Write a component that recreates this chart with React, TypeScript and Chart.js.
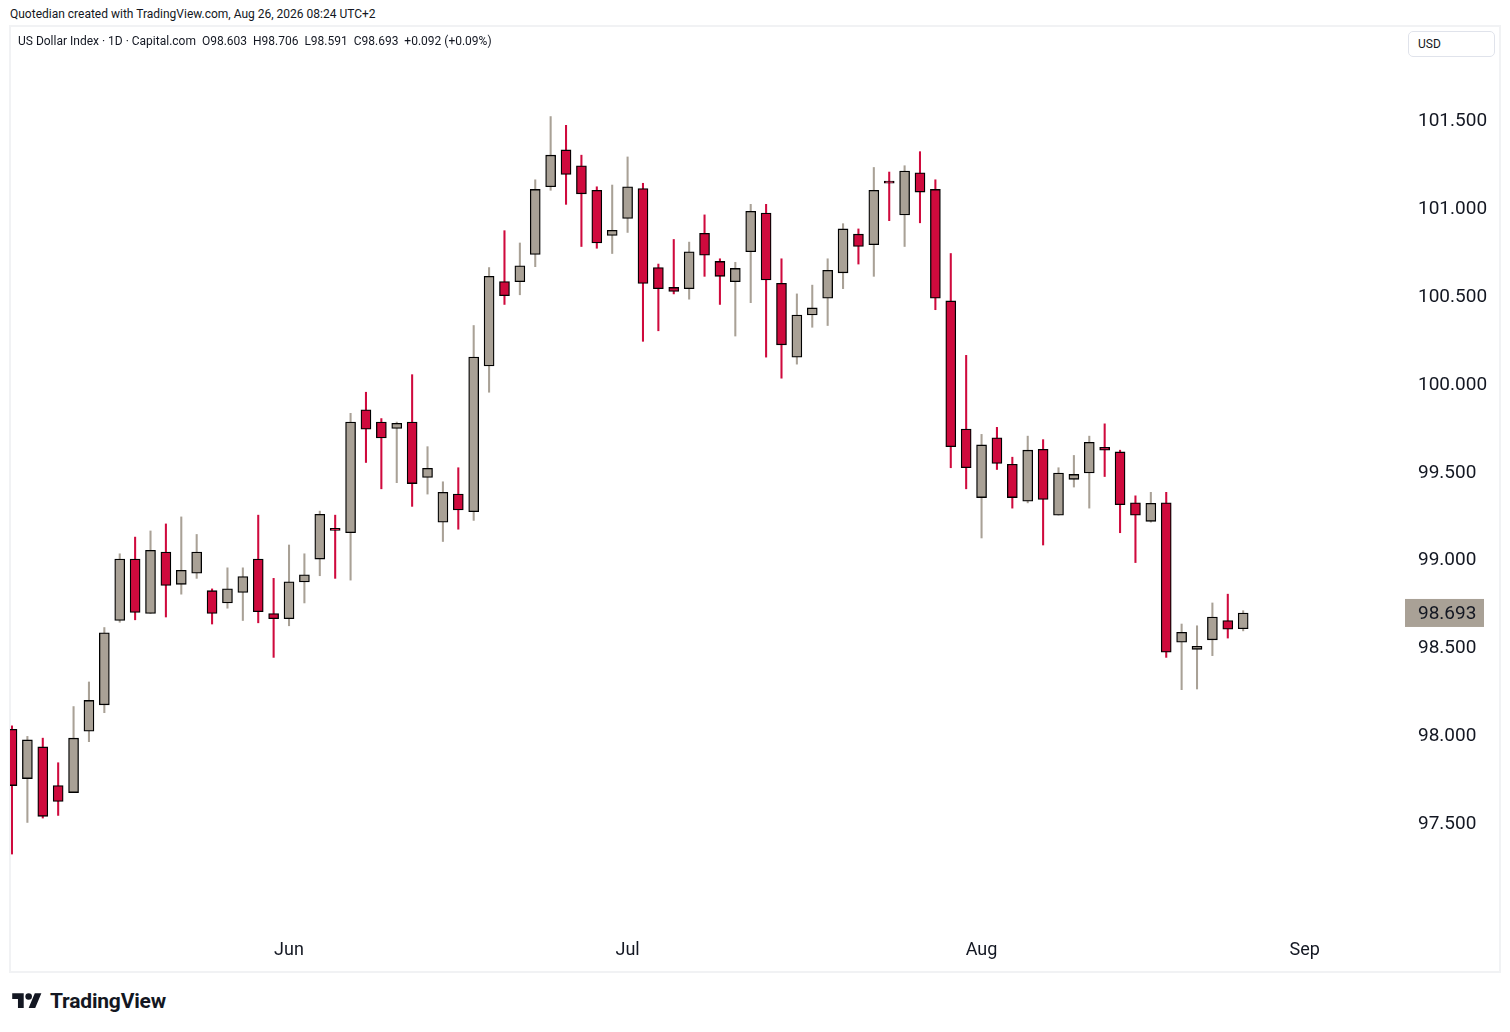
import React, { useEffect, useRef } from 'react';
import { Chart, registerables } from 'chart.js';

Chart.register(...registerables);

// Trading days (categories)
const dates = [
  '2026-05-06', '2026-05-07', '2026-05-08',
  '2026-05-11', '2026-05-12', '2026-05-13', '2026-05-14', '2026-05-15',
  '2026-05-18', '2026-05-19', '2026-05-20', '2026-05-21', '2026-05-22',
  '2026-05-25', '2026-05-26', '2026-05-27', '2026-05-28', '2026-05-29',
  '2026-06-01', '2026-06-02', '2026-06-03', '2026-06-04', '2026-06-05',
  '2026-06-08', '2026-06-09', '2026-06-10', '2026-06-11', '2026-06-12',
  '2026-06-15', '2026-06-16', '2026-06-17', '2026-06-18', '2026-06-19',
  '2026-06-22', '2026-06-23', '2026-06-24', '2026-06-25', '2026-06-26',
  '2026-06-29', '2026-06-30',
  '2026-07-01', '2026-07-02', '2026-07-03',
  '2026-07-06', '2026-07-07', '2026-07-08', '2026-07-09', '2026-07-10',
  '2026-07-13', '2026-07-14', '2026-07-15', '2026-07-16', '2026-07-17',
  '2026-07-20', '2026-07-21', '2026-07-22', '2026-07-23', '2026-07-24',
  '2026-07-27', '2026-07-28', '2026-07-29', '2026-07-30', '2026-07-31',
  '2026-08-03', '2026-08-04', '2026-08-05', '2026-08-06', '2026-08-07',
  '2026-08-10', '2026-08-11', '2026-08-12', '2026-08-13', '2026-08-14',
  '2026-08-17', '2026-08-18', '2026-08-19', '2026-08-20', '2026-08-21',
  '2026-08-24', '2026-08-25', '2026-08-26',
];

const opens = [
  98.03, 97.75, 97.93, 97.71, 97.67, 98.02, 98.17, 98.65, 99.0, 98.69,
  99.04, 98.856, 98.92, 98.82, 98.75, 98.81, 99.0, 98.69, 98.66, 98.87,
  99.0, 99.175, 99.15, 99.85, 99.78, 99.744, 99.78, 99.465, 99.21, 99.37,
  99.27, 100.1, 100.58, 100.58, 100.735, 101.12, 101.33, 101.24, 101.1, 100.843,
  100.94, 101.11, 100.66, 100.547, 100.54, 100.855, 100.695, 100.58, 100.75, 100.97,
  100.57, 100.15, 100.39, 100.485, 100.63, 100.85, 100.79, 101.145, 100.96, 101.2,
  101.105, 100.47, 99.74, 99.35, 99.69, 99.54, 99.33, 99.625, 99.25, 99.454,
  99.49, 99.636, 99.61, 99.32, 99.215, 99.32, 98.526, 98.486, 98.54, 98.65,
  98.603,
];

const highs = [
  98.05, 97.99, 97.98, 97.84, 98.16, 98.3, 98.61, 99.03, 99.125, 99.16,
  99.2, 99.24, 99.14, 98.83, 98.95, 98.95, 99.25, 98.89, 99.08, 99.03,
  99.273, 99.25, 99.83, 99.95, 99.8, 99.78, 100.05, 99.64, 99.44, 99.52,
  100.33, 100.66, 100.87, 100.8, 101.16, 101.52, 101.47, 101.3, 101.12, 101.13,
  101.29, 101.14, 100.68, 100.82, 100.805, 100.96, 100.71, 100.69, 101.02, 101.02,
  100.71, 100.51, 100.56, 100.71, 100.91, 100.88, 101.23, 101.204, 101.24, 101.32,
  101.16, 100.74, 100.16, 99.71, 99.75, 99.58, 99.7, 99.68, 99.52, 99.59,
  99.7, 99.77, 99.62, 99.36, 99.38, 99.38, 98.63, 98.62, 98.75, 98.8,
  98.706,
];

const lows = [
  97.32, 97.5, 97.525, 97.54, 97.67, 97.96, 98.125, 98.64, 98.654, 98.69,
  98.67, 98.8, 98.89, 98.63, 98.72, 98.65, 98.637, 98.44, 98.62, 98.75,
  98.905, 98.89, 98.88, 99.55, 99.4, 99.435, 99.3, 99.37, 99.1, 99.17,
  99.22, 99.95, 100.45, 100.505, 100.665, 101.1, 101.02, 100.78, 100.77, 100.74,
  100.86, 100.24, 100.3, 100.51, 100.48, 100.61, 100.45, 100.27, 100.46, 100.15,
  100.03, 100.11, 100.32, 100.33, 100.54, 100.68, 100.61, 100.927, 100.78, 100.915,
  100.42, 99.52, 99.4, 99.12, 99.51, 99.29, 99.32, 99.08, 99.25, 99.41,
  99.29, 99.47, 99.15, 98.98, 99.21, 98.44, 98.256, 98.26, 98.45, 98.55,
  98.591,
];

const closes = [
  97.71, 97.97, 97.535, 97.62, 97.98, 98.195, 98.58, 99.0, 98.696, 99.05,
  98.85, 98.936, 99.04, 98.69, 98.83, 98.9, 98.7, 98.66, 98.87, 98.91,
  99.255, 99.163, 99.78, 99.74, 99.69, 99.773, 99.43, 99.517, 99.38, 99.28,
  100.15, 100.61, 100.5, 100.67, 101.105, 101.3, 101.19, 101.08, 100.8, 100.872,
  101.12, 100.57, 100.54, 100.524, 100.75, 100.73, 100.61, 100.655, 100.98, 100.59,
  100.22, 100.39, 100.43, 100.644, 100.88, 100.78, 101.1, 101.141, 101.21, 101.09,
  100.485, 99.64, 99.52, 99.65, 99.545, 99.35, 99.62, 99.34, 99.49, 99.482,
  99.665, 99.62, 99.31, 99.25, 99.317, 98.47, 98.583, 98.503, 98.67, 98.6,
  98.693,
];

const yTickValues = [97.5, 98.0, 98.5, 99.0, 99.5, 100.0, 100.5, 101.0, 101.5];
const xTickIndex = [18, 40, 63, 84];
const xTickLabels = ['Jun', 'Jul', 'Aug', 'Sep'];

const UP = '#a9a196';
const DOWN = '#cf0a3d';
const TEXT = '#131722';
const FONT = 'Roboto, "Noto Sans", sans-serif';

const priceLabelPlugin = {
  id: 'priceLabel',
  afterDraw(chart: any) {
    const { ctx, chartArea, scales } = chart;
    const y = scales.y;
    const last = closes[closes.length - 1];
    const py = y.getPixelForValue(last);
    ctx.save();
    ctx.fillStyle = UP;
    ctx.fillRect(chartArea.right + 5, py - 14, 79, 28);
    ctx.fillStyle = TEXT;
    ctx.font = '19px ' + FONT;
    ctx.textBaseline = 'middle';
    ctx.textAlign = 'left';
    ctx.fillText(last.toFixed(3), chartArea.right + 18, py + 1.5);
    ctx.restore();
  },
};

function CandleChart() {
  const ref = useRef<HTMLCanvasElement | null>(null);
  useEffect(() => {
    if (!ref.current) return;
    const colors = closes.map((c, i) => (c >= opens[i] ? UP : DOWN));
    const bodyData = dates.map((_, i) => ({ x: i, y: [opens[i], closes[i]] }));
    const wickData = dates.map((_, i) => ({ x: i, y: [lows[i], highs[i]] }));
    const chart = new Chart(ref.current, {
      type: 'bar',
      data: {
        datasets: [
          {
            label: 'body',
            data: bodyData as any,
            backgroundColor: colors,
            borderColor: '#000000',
            borderWidth: 1.3,
            borderSkipped: false,
            barThickness: 10,
            minBarLength: 2,
            grouped: false,
            order: 0,
            clip: 0,
          } as any,
          {
            label: 'wick',
            data: wickData as any,
            backgroundColor: colors,
            borderWidth: 0,
            barThickness: 1.4,
            grouped: false,
            order: 1,
            clip: 0,
          } as any,
        ],
      },
      options: {
        animation: false,
        responsive: false,
        maintainAspectRatio: false,
        events: [],
        layout: { padding: 0 },
        plugins: { legend: { display: false }, tooltip: { enabled: false }, title: { display: false } },
        scales: {
          x: {
            type: 'linear',
            min: -0.13,
            max: 90.19,
            offset: false,
            grid: { display: false, drawTicks: false, offset: false },
            border: { display: false },
            afterBuildTicks: (s: any) => {
              s.ticks = xTickIndex.map((v) => ({ value: v }));
            },
            afterFit: (s: any) => {
              s.height = 37;
              s.paddingLeft = 0;
              s.paddingRight = 0;
            },
            ticks: {
              autoSkip: false,
              maxRotation: 0,
              padding: 5,
              color: TEXT,
              font: { family: FONT, size: 18 },
              callback: (v: any) => {
                const k = xTickIndex.indexOf(Number(v));
                return k >= 0 ? xTickLabels[k] : '';
              },
            },
          },
          y: {
            type: 'linear',
            position: 'right',
            min: 96.859,
            max: 102.03,
            grid: { display: false, drawTicks: false },
            border: { display: false },
            afterBuildTicks: (s: any) => {
              s.ticks = yTickValues.map((v) => ({ value: v }));
            },
            afterFit: (s: any) => {
              s.width = 100;
              s.paddingTop = 0;
              s.paddingBottom = 0;
            },
            ticks: {
              padding: 18,
              labelOffset: 1.5,
              color: TEXT,
              font: { family: FONT, size: 19 },
              callback: (v: any) => Number(v).toFixed(3),
            },
          },
        },
      } as any,
      plugins: [priceLabelPlugin],
    });
    return () => chart.destroy();
  }, []);
  return <canvas ref={ref} width={1490} height={945} style={{ width: 1490, height: 945, display: 'block' }} />;
}

function TVLogo() {
  return (
    <div style={{ position: 'absolute', left: 12, top: 990, display: 'flex', alignItems: 'center' }}>
      <svg width={30} height={23} viewBox="0 0 36 28" style={{ display: 'block' }}>
        <path d="M14 22H7V11H0V4h14v18zM28 22h-8l7.5-18h8L28 22z" fill="#131722" />
        <circle cx="20" cy="8" r="4" fill="#131722" />
      </svg>
      <span style={{ marginLeft: 8, fontFamily: FONT, fontWeight: 700, fontSize: 21, color: '#131722', lineHeight: '23px', letterSpacing: -0.2 }}>
        TradingView
      </span>
    </div>
  );
}

export default function App() {
  return (
    <div style={{ position: 'absolute', left: 0, top: 0, width: 1510, height: 1032, background: '#ffffff', overflow: 'hidden', fontFamily: FONT, color: TEXT }}>
      <div style={{ position: 'absolute', left: 10, top: 6, fontSize: 12, lineHeight: '16px', whiteSpace: 'nowrap' }}>
        Quotedian created with TradingView.com, Aug 26, 2026 08:24 UTC+2
      </div>
      <div style={{ position: 'absolute', left: 9, top: 25, width: 1492, height: 948, border: '2px solid #f1f2f4', boxSizing: 'border-box' }} />
      <div style={{ position: 'absolute', left: 10, top: 27 }}>
        <CandleChart />
      </div>
      <div style={{ position: 'absolute', left: 18, top: 33, fontSize: 12, lineHeight: '16px', whiteSpace: 'pre' }}>
        {'US Dollar Index · 1D · Capital.com  O98.603  H98.706  L98.591  C98.693  +0.092 (+0.09%)'}
      </div>
      <div style={{ position: 'absolute', left: 1408, top: 31, width: 87, height: 26, border: '1px solid #e0e3eb', borderRadius: 5, boxSizing: 'border-box', fontSize: 12, lineHeight: '24px', paddingLeft: 9, background: '#ffffff' }}>
        USD
      </div>
      <TVLogo />
    </div>
  );
}
